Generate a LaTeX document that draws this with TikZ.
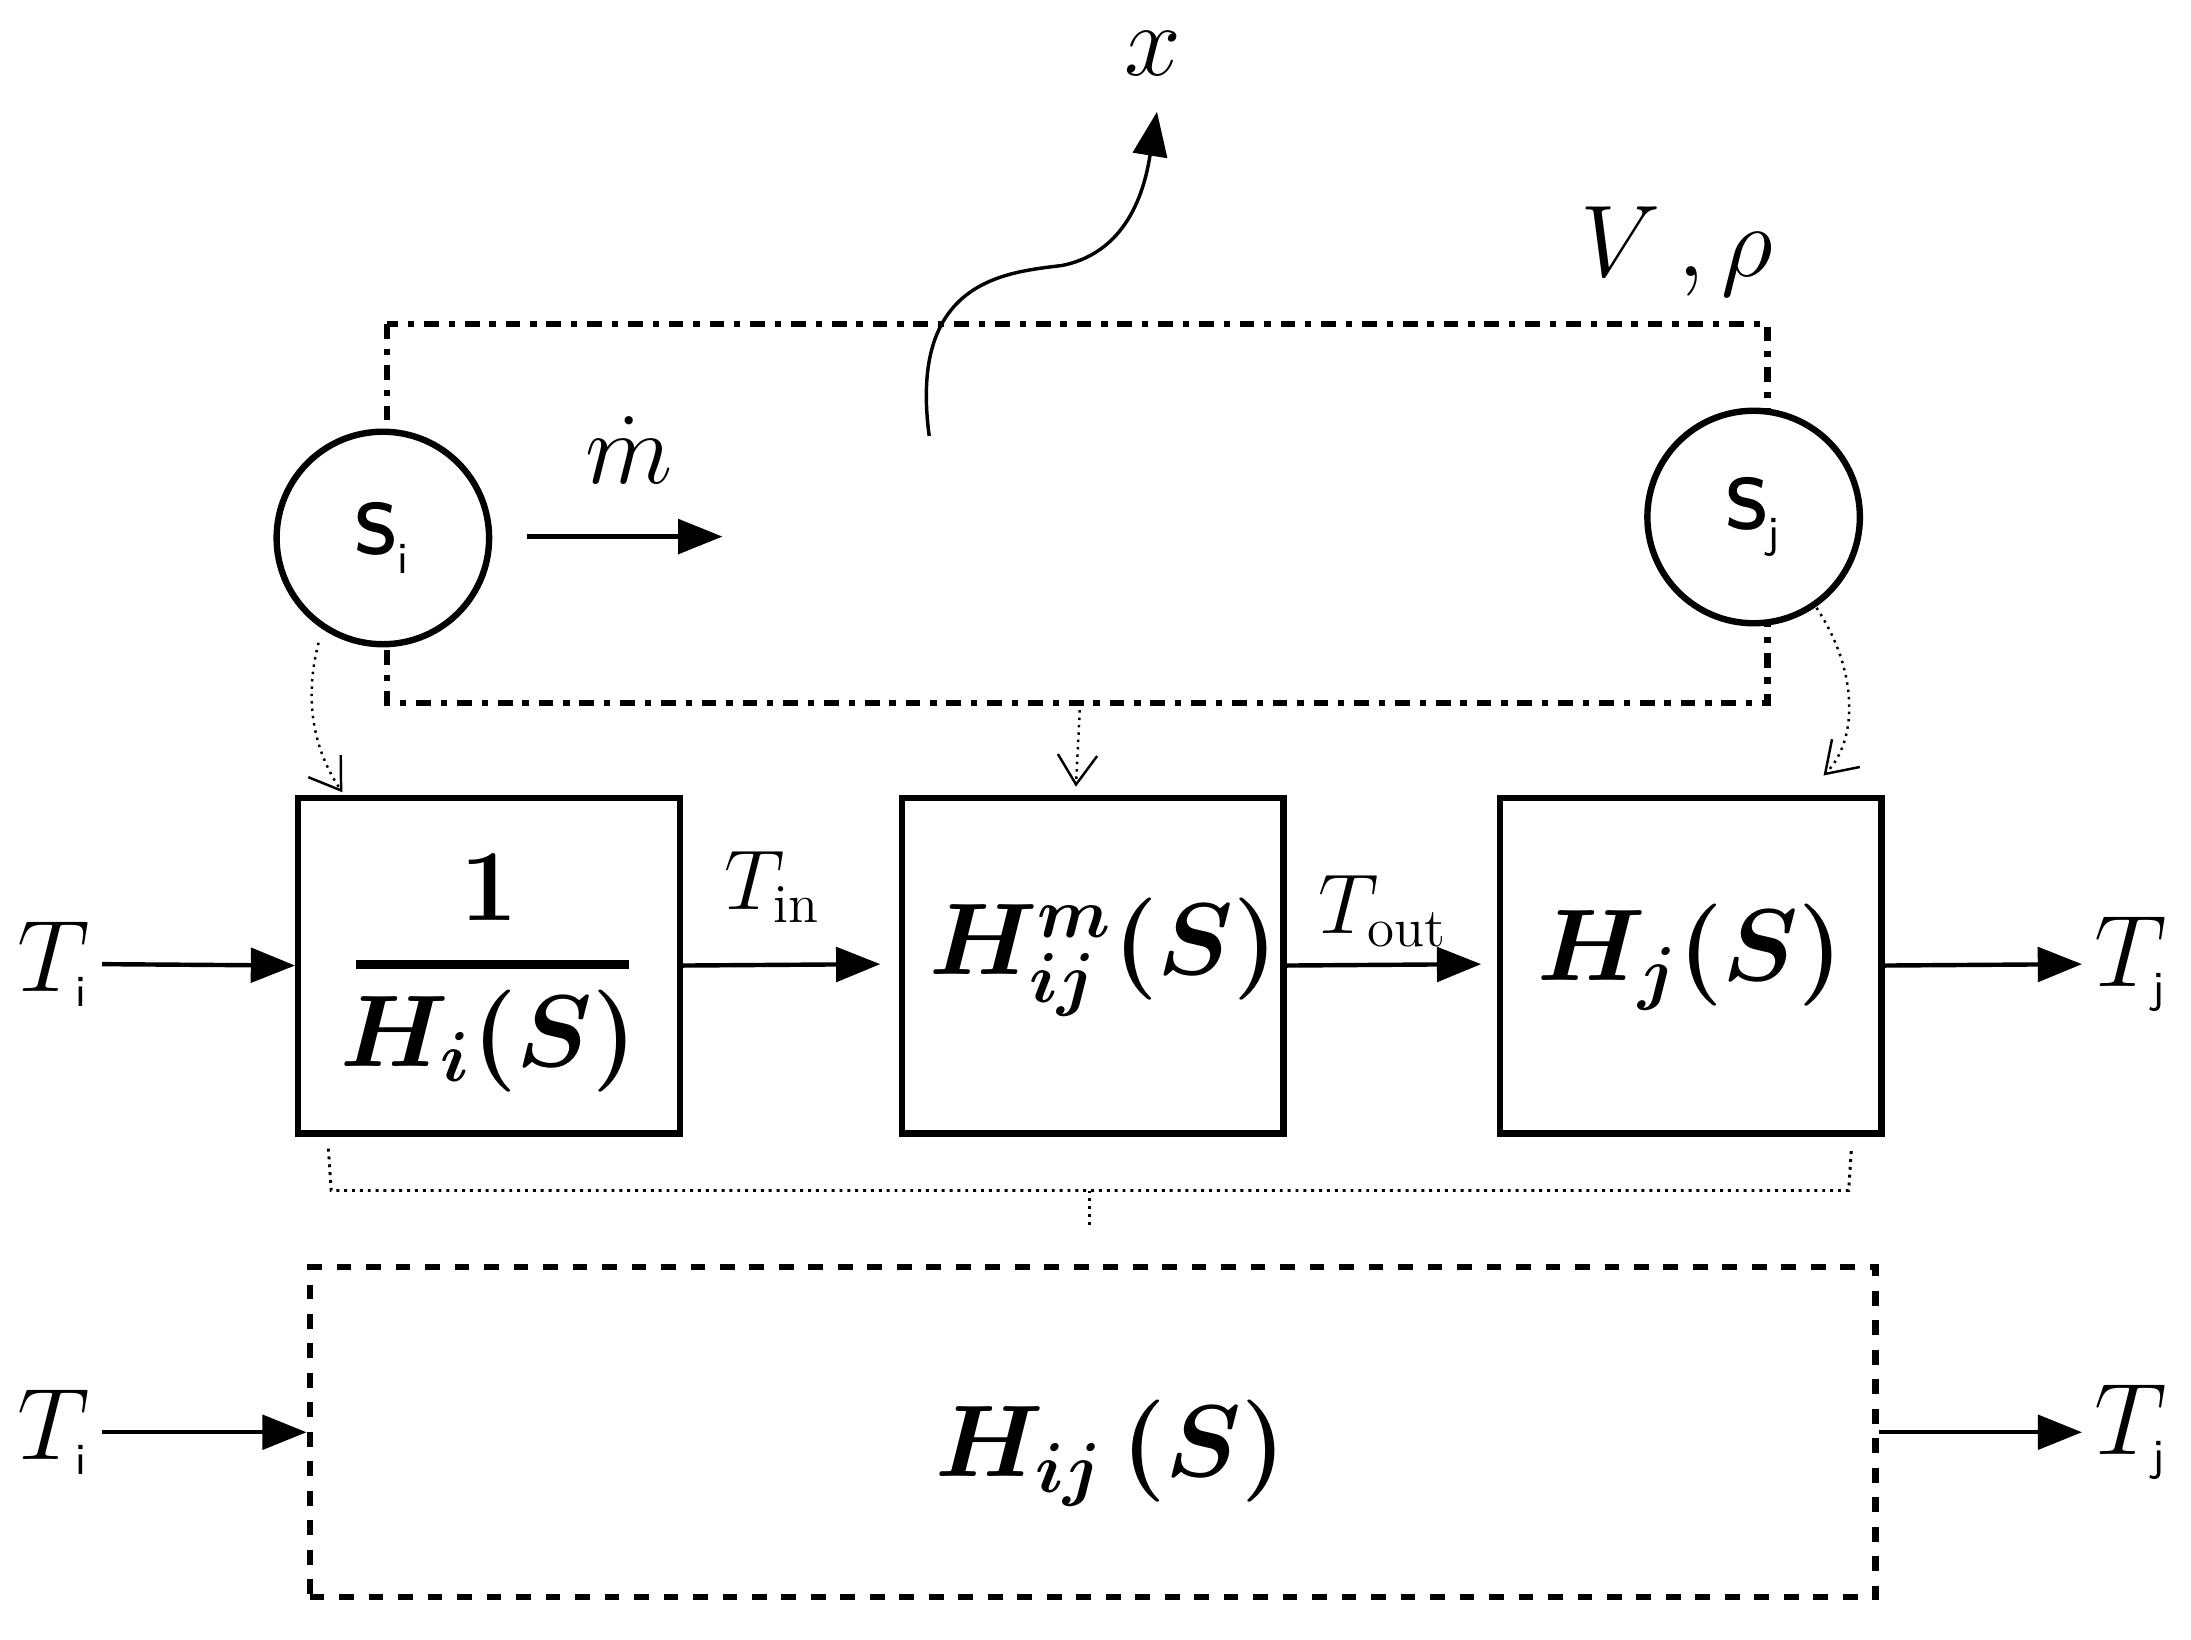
\documentclass[tikz,border=0pt]{standalone}
\usepackage{amsmath,bm}
\usetikzlibrary{arrows.meta}
\begin{document}
\begin{tikzpicture}[x=0.01cm,y=-0.01cm,
  blk/.style={draw,line width=1.3pt,minimum width=2.73cm,minimum height=2.4cm,inner sep=0},
  arr/.style={-{Triangle[length=9pt,width=7pt]},line width=0.9pt},
  dar/.style={densely dotted,-{Straight Barb[length=6pt,width=8pt]},line width=0.5pt},
  big/.style={font=\fontsize{22}{26}\selectfont},
  lab/.style={font=\fontsize{22}{26}\selectfont}]
\useasboundingbox (0,0) rectangle (1568,1173);
\draw[line width=1.3pt,dash dot] (277,232) rectangle (1265,503);
\node[draw,circle,fill=white,line width=1.3pt,minimum size=1.52cm,font=\sffamily\fontsize{24}{28}\selectfont] (si) at (274,385) {s$_{\text{\sffamily\small i}}$};
\node[draw,circle,fill=white,line width=1.3pt,minimum size=1.52cm,font=\sffamily\fontsize{24}{28}\selectfont] (sj) at (1255,370) {s$_{\text{\sffamily\small j}}$};
\coordinate (m1) at (377,384); \coordinate (m2) at (517,384);
\draw[arr] (m1) -- (m2);
\node[lab] (m) at (450,322) {$\dot m$};
\coordinate (w1) at (665,312); \coordinate (w2) at (828,80);
\draw[-{Triangle[length=9pt,width=7pt]},line width=0.7pt] (w1) .. controls (650,200) and (720,195) .. (760,190) .. controls (810,180) and (820,130) .. (w2);
\node[lab] (x) at (825,38) {$x$};
\node[lab] (V) at (1200,180) {$V\,,\rho$};
\node[blk] (b1) at (350,691) {};
\node[blk] (b2) at (782,691) {};
\node[blk] (b3) at (1210,691) {};
\node[big] at (350,635) {$\bm{1}$};
\draw[line width=1.8pt] (255,690) -- (450,690);
\node[big] at (350,745) {$\bm{H_i(S)}$};
\node[big] at (790,685) {$\bm{H^{m}_{ij}(S)}$};
\node[big] at (1210,685) {$\bm{H_j(S)}$};
\node[lab] (Ti) at (38,690) {$T_{\text{\sffamily\small i}}$};
\node[lab] (Tj) at (1525,690) {$T_{\text{\sffamily\small j}}$};
\draw[arr] (73,690) -- (b1.west);
\draw[arr] (b1.east) -- (630,690);
\node[font=\fontsize{16}{20}\selectfont] at (553,635) {$T_{\text{in}}$};
\draw[arr] (b2.east) -- (1060,690);
\node[font=\fontsize{16}{20}\selectfont] at (990,652) {$T_{\text{out}}$};
\draw[arr] (b3.east) -- (1490,690);
\draw[dar] (228,460) .. controls (215,510) and (230,545) .. (245,567);
\draw[dar] (773,503) -- (770,563);
\draw[dar] (1300,435) .. controls (1330,480) and (1330,530) .. (1305,555);
\draw[densely dotted,line width=0.6pt] (235,822) -- (237,852) -- (1323,852) -- (1325,822);
\draw[densely dotted,line width=0.6pt] (780,852) -- (780,880);
\node[draw,dashed,line width=1.3pt,minimum width=11.2cm,minimum height=2.36cm] (B) at (782,1025) {};
\node[big] at (795,1040) {$\bm{H_{ij}\,(S)}$};
\node[lab] (Ti2) at (38,1025) {$T_{\text{\sffamily\small i}}$};
\node[lab] (Tj2) at (1525,1025) {$T_{\text{\sffamily\small j}}$};
\draw[arr] (73,1025) -- (B.west);
\draw[arr] (B.east) -- (1490,1025);
\end{tikzpicture}
\end{document}
